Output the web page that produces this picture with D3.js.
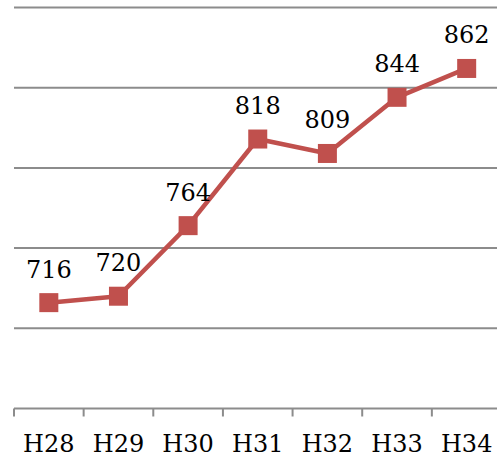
<!DOCTYPE html>
<html>
<head>
<meta charset="utf-8">
<script src="https://cdn.jsdelivr.net/npm/d3@7/dist/d3.min.js"></script>
<style>
  html, body { margin: 0; padding: 0; background: #fff; }
  svg { display: block; }
</style>
</head>
<body>
<div id="chart"></div>
<script>
// データ
const categories = ['H28', 'H29', 'H30', 'H31', 'H32', 'H33', 'H34'];
const values = [716, 720, 764, 818, 809, 844, 862];
const yTicks = [650, 700, 750, 800, 850, 900];

const W = 497, H = 459;
const FONT = "'DejaVu Serif', serif";
const red = '#C0504D';
const grid = '#8C8C8C';

const svg = d3.select('#chart').append('svg')
  .attr('width', W).attr('height', H);

const x = d3.scaleBand().domain(categories).range([14, 501.5]);
const y = d3.scaleLinear().domain([650, 900]).range([408.5, 7.5]);

/* --- gridlines ---------------------------------------------------------- */
svg.append('g').selectAll('line').data(yTicks.slice(1)).join('line')
  .attr('x1', 14).attr('x2', W)
  .attr('y1', d => y(d)).attr('y2', d => y(d))
  .attr('stroke', grid).attr('stroke-width', 2);

/* --- x axis ------------------------------------------------------------- */
const ax = svg.append('g').attr('transform', 'translate(0,' + y(650) + ')');
ax.append('line').attr('x1', 14).attr('x2', W).attr('stroke', grid).attr('stroke-width', 2);
ax.selectAll('line.tk').data(categories).join('line').attr('class', 'tk')
  .attr('x1', d => x(d)).attr('x2', d => x(d))
  .attr('y1', 0).attr('y2', 8)
  .attr('stroke', grid).attr('stroke-width', 2);
ax.selectAll('text').data(categories).join('text')
  .attr('x', d => x(d) + x.bandwidth() / 2)
  .attr('y', 43)
  .attr('text-anchor', 'middle')
  .attr('font-family', FONT).attr('font-size', 24)
  .attr('fill', '#000')
  .text(d => d);

/* --- line + markers ----------------------------------------------------- */
const cx = (d, i) => x(categories[i]) + x.bandwidth() / 2;
const line = d3.line().x(cx).y(d => y(d));
svg.append('path').datum(values)
  .attr('d', line)
  .attr('fill', 'none').attr('stroke', red).attr('stroke-width', 4.5)
  .attr('stroke-linejoin', 'round');

svg.append('g').selectAll('rect').data(values).join('rect')
  .attr('x', (d, i) => cx(d, i) - 9.5)
  .attr('y', d => y(d) - 9.5)
  .attr('width', 19).attr('height', 19)
  .attr('fill', red);

/* --- data labels -------------------------------------------------------- */
svg.append('g').selectAll('text').data(values).join('text')
  .attr('x', cx)
  .attr('y', d => y(d) - 25)
  .attr('text-anchor', 'middle')
  .attr('font-family', FONT).attr('font-size', 24)
  .attr('fill', '#000')
  .text(d => d);
</script>
</body>
</html>
